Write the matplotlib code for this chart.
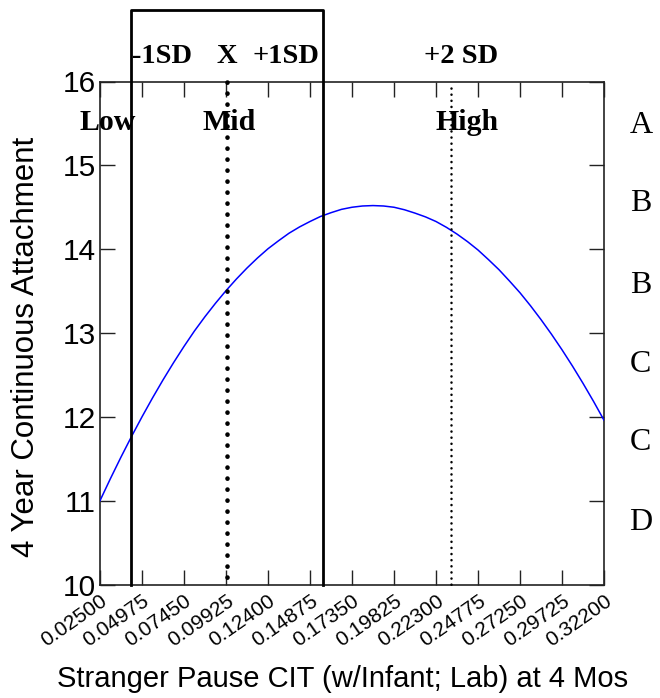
import matplotlib
matplotlib.use('Agg')
import matplotlib.pyplot as plt

# Fitted curve, values
x_vals = [0.025, 0.031188, 0.03737, 0.043563, 0.04975, 0.055938, 0.06212, 0.068313,
          0.0745, 0.080688, 0.08687, 0.093063, 0.09925, 0.105438, 0.11162, 0.117813,
          0.124, 0.130188, 0.13637, 0.142563, 0.14875, 0.154938, 0.16112, 0.167313,
          0.1735, 0.179688, 0.18587, 0.192063, 0.19825, 0.204438, 0.21062, 0.216813,
          0.223, 0.229188, 0.23537, 0.241563, 0.24775, 0.253938, 0.26012, 0.266313,
          0.2725, 0.278688, 0.28487, 0.291063, 0.29725, 0.303438, 0.30962, 0.315813, 0.322]
y_vals = [11.00, 11.265, 11.52, 11.765, 12.00, 12.225, 12.44, 12.645,
          12.84, 13.025, 13.195, 13.355, 13.505, 13.645, 13.775, 13.895,
          14.005, 14.10, 14.19, 14.265, 14.33, 14.39, 14.435, 14.475,
          14.50, 14.515, 14.52, 14.515, 14.50, 14.47, 14.43, 14.385,
          14.33, 14.26, 14.18, 14.09, 13.99, 13.875, 13.755, 13.62,
          13.48, 13.325, 13.16, 12.985, 12.80, 12.605, 12.40, 12.185, 11.96]

x_ticks = [0.025, 0.04975, 0.0745, 0.09925, 0.124, 0.14875, 0.1735,
           0.19825, 0.223, 0.24775, 0.2725, 0.29725, 0.322]
x_tick_labels = ['0.02500', '0.04975', '0.07450', '0.09925', '0.12400', '0.14875', '0.17350',
                 '0.19825', '0.22300', '0.24775', '0.27250', '0.29725', '0.32200']
y_ticks = [10, 11, 12, 13, 14, 15, 16]

# Reference lines (moderator values)
minus_1sd = 0.0431
mean_x = 0.0998
plus_1sd = 0.1562
plus_2sd = 0.2318

# Significance letters on the right
letters = ['A', 'B', 'B', 'C', 'C', 'D']
letter_y = [15.39, 14.45, 13.48, 12.54, 11.60, 10.65]

sans = 'Liberation Sans'
serif = 'Liberation Serif'

fig = plt.figure(figsize=(6.6, 6.98), dpi=100)
ax = fig.add_axes([100 / 660, (698 - 584.5) / 698, 504 / 660, 503 / 698])

ax.plot(x_vals, y_vals, color='#0000ff', lw=1.1, zorder=3)

ax.set_xlim(0.025, 0.322)
ax.set_ylim(10, 16)
ax.set_xticks(x_ticks)
ax.set_xticklabels(x_tick_labels, rotation=35, ha='right', va='top',
                   rotation_mode='anchor', fontsize=15, family=sans)
ax.set_yticks(y_ticks)
ax.set_yticklabels([str(v) for v in y_ticks], fontsize=21.5, family=sans)
ax.tick_params(direction='in', length=10.5, width=1.0, top=True, right=True,
               color='#222222')
ax.tick_params(axis='x', pad=5)
ax.tick_params(axis='y', pad=3)
for s in ax.spines.values():
    s.set_linewidth(1.2)
    s.set_color('#222222')

ax.set_xlabel('Stranger Pause CIT (w/Infant; Lab) at 4 Mos', fontsize=21, family=sans)
ax.xaxis.set_label_coords(0.481, -0.16)
ax.set_ylabel('4 Year Continuous Attachment', fontsize=22.5, family=sans)
ax.yaxis.set_label_coords(-0.117, 0.472)

# -1SD / +1SD box rising above the plot
box_top = 16.853
ax.plot([minus_1sd, minus_1sd, plus_1sd, plus_1sd], [10, box_top, box_top, 10],
        color='black', lw=2.0, clip_on=False, zorder=4)

# mean and +2SD dotted lines (drawn top-down so the dots start at the top)
ax.plot([mean_x, mean_x], [16, 10], color='black', lw=3.3,
        linestyle=(0, (0.05, 2.35)), dash_capstyle='round', clip_on=False, zorder=4)
ax.plot([plus_2sd, plus_2sd], [15.92, 9.93], color='black', lw=1.8,
        linestyle=(0, (0.05, 2.4)), dash_capstyle='round', clip_on=False, zorder=4)

# labels above the plot
top_y = 16.22
for lbl, xp in [('-1SD', 0.0615), ('X', 0.0998), ('+1SD', 0.1346), ('+2 SD', 0.2377)]:
    ax.text(xp, top_y, lbl, ha='center', va='baseline', fontsize=20.5,
            fontweight='bold', family=serif, clip_on=False)

# Low / Mid / High
for lbl, xp in [('Low', 0.0297), ('Mid', 0.1011), ('High', 0.2413)]:
    ax.text(xp, 15.42, lbl, ha='center', va='baseline', fontsize=21.5,
            fontweight='bold', family=serif, clip_on=False, zorder=5)

for lbl, yp in zip(letters, letter_y):
    ax.text(0.3437, yp, lbl, ha='center', va='baseline', fontsize=23,
            family=serif, clip_on=False)

fig.savefig('out.png', dpi=100)
